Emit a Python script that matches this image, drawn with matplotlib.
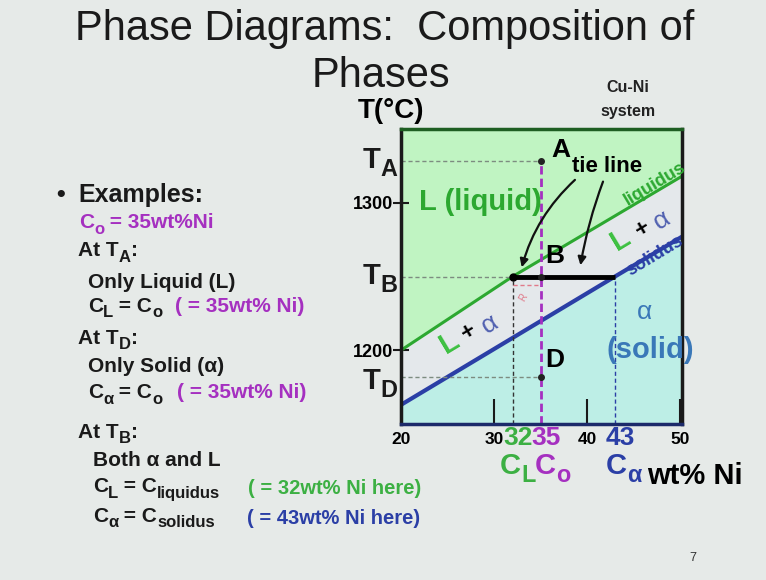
import numpy as np
import matplotlib.pyplot as plt
import matplotlib.transforms as mtransforms
from matplotlib.patches import FancyArrowPatch

plt.rcParams['font.family'] = ['Liberation Sans', 'DejaVu Sans']

# Cu-Ni phase diagram (zoomed window)
liquidus_x = [20, 32, 50.2]
liquidus_T = [1200, 1250, 1318]
solidus_x = [20, 43, 50.2]
solidus_T = [1163, 1250, 1277]

C_o = 35
C_L = 32
C_alpha = 43
T_A = 1328
T_B = 1250
T_D = 1182

x_ticks = [20, 30, 40, 50]
y_ticks = [1200, 1300]
x_lim = (20, 50.2)
y_lim = (1150, 1350)

bg = '#e6eae8'
ink = '#1a1a1a'
green = '#2ca830'
lgreen = '#3cb043'
purple = '#a530c0'
blue = '#2b3fa6'
solid_blue = '#3a78b8'

W, H = 766, 580
fig = plt.figure(figsize=(W / 100, H / 100), dpi=100, facecolor=bg)
renderer = fig.canvas.get_renderer()


def ftext(x, y, s, **kw):
    kw.setdefault('va', 'center')
    kw.setdefault('ha', 'left')
    return fig.text(x / W, 1 - y / H, s, **kw)


def rich(x, y, parts, size):
    # parts: (text, colour, is_subscript); pieces laid out left to right
    cx = x
    for s, col, sub in parts:
        fs = size * 0.8 if sub else size
        yy = y + size * 0.45 if sub else y
        t = ftext(cx, yy, s, fontsize=fs, fontweight='bold', color=col)
        cx += t.get_window_extent(renderer).width
    return cx


ax = fig.add_axes([401 / W, 1 - 424 / H, 281 / W, 295 / H])
ax.set_xlim(*x_lim)
ax.set_ylim(*y_lim)

# phase regions
ax.fill(liquidus_x + [x_lim[1], x_lim[0]], liquidus_T + [y_lim[1], y_lim[1]],
        color='#c0f4c2', lw=0)
ax.fill(liquidus_x + solidus_x[::-1], liquidus_T + solidus_T[::-1],
        color='#e4e8eb', lw=0)
ax.fill(solidus_x + [x_lim[1], x_lim[0]], solidus_T + [y_lim[0], y_lim[0]],
        color='#bdeee6', lw=0)

ax.plot(liquidus_x, liquidus_T, color=green, lw=2.2)
ax.plot(solidus_x, solidus_T, color=blue, lw=3)

# guide lines
for T, xe in [(T_A, C_o), (T_B, C_L), (T_D, C_o)]:
    ax.plot([x_lim[0], xe], [T, T], color='#7d8c80', lw=1, ls=(0, (3, 2)))
ax.plot([C_L, C_L], [y_lim[0], T_B], color='#333333', lw=1, ls=(0, (3, 2)))
ax.plot([C_alpha, C_alpha], [y_lim[0], T_B], color=blue, lw=1, ls=(0, (3, 2)))
ax.plot([C_o, C_o], [y_lim[0], T_A], color=purple, lw=2, ls=(0, (3, 1.5)))
ax.plot([C_L, C_o], [T_B - 6, T_B - 6], color='#e07a8a', lw=1, ls=(0, (3, 2)))
ax.text(33.2, T_B - 14, 'R', color='#e07a8a', fontsize=7, rotation=60,
        ha='center', va='center')

# tie line and state points
ax.plot([C_L, C_alpha], [T_B, T_B], color='black', lw=3.5, solid_capstyle='butt')
ax.plot([C_L], [T_B], 'o', color='black', ms=5)
ax.plot([C_o, C_o, C_o], [T_A, T_B, T_D], 'o', color='#222222', ms=4)

for sp in ['left', 'right']:
    ax.spines[sp].set_color(ink)
    ax.spines[sp].set_linewidth(2.5)
ax.spines['top'].set_color('#1e5e22')
ax.spines['top'].set_linewidth(2.5)
ax.spines['bottom'].set_color('#1c2a6a')
ax.spines['bottom'].set_linewidth(2.5)

ax.set_xticks(x_ticks)
ax.set_xticklabels([str(v) for v in x_ticks], fontsize=12.5, fontweight='bold')
ax.set_yticks(y_ticks)
ax.set_yticklabels([str(v) for v in y_ticks], fontsize=13, fontweight='bold')
ax.tick_params(axis='x', direction='in', length=18, width=1.5, pad=6, color=ink)
ax.tick_params(axis='y', direction='inout', length=12, width=1.5, pad=0, color=ink)

# region labels
ftext(419, 202, 'L (liquid)', color=green, fontsize=21, fontweight='bold')
ftext(655, 184, 'liquidus', color=green, fontsize=13, fontweight='bold',
      rotation=31, ha='center')
ftext(655, 256, 'solidus', color=blue, fontsize=13, fontweight='bold',
      rotation=31, ha='center')
ftext(621, 240, 'L', color='#3cc040', fontsize=21, fontweight='bold', rotation=31, ha='center')
ftext(643, 229, '+', color='black', fontsize=17, fontweight='bold', rotation=31, ha='center')
ftext(662, 220, 'α', color='#5060b0', fontsize=19, rotation=31, ha='center')
ftext(450, 343, 'L', color='#3cc040', fontsize=21, fontweight='bold', rotation=31, ha='center')
ftext(469, 332, '+', color='black', fontsize=17, fontweight='bold', rotation=31, ha='center')
ftext(490, 324, 'α', color='#5060b0', fontsize=19, rotation=31, ha='center')
ftext(645, 312, 'α', color=solid_blue, fontsize=19, ha='center')
ftext(606, 350, '(solid)', color=solid_blue, fontsize=21, fontweight='bold')

ftext(551, 150, 'A', fontsize=19, fontweight='bold')
ftext(545, 256, 'B', fontsize=19, fontweight='bold')
ftext(545, 360, 'D', fontsize=19, fontweight='bold')

ftext(572, 167, 'tie line', fontsize=16, fontweight='bold')
for (x0, y0), (x1, y1), rad in [((577, 178), (521, 270), 0.15), ((604, 179), (580, 268), 0.05)]:
    arr = FancyArrowPatch((x0 / W, 1 - y0 / H), (x1 / W, 1 - y1 / H),
                          transform=fig.transFigure, connectionstyle=f'arc3,rad={rad}',
                          arrowstyle='-|>', mutation_scale=12, lw=1.6, color='#111111')
    fig.add_artist(arr)

# temperature markers left of axis
for lab, yy in [('A', 160), ('B', 276), ('D', 381)]:
    rich(363, yy, [('T', ink, False), (lab, ink, True)], 21)
ftext(391, 111, 'T(°C)', fontsize=20, fontweight='bold', ha='center')
ftext(628, 88, 'Cu-Ni', fontsize=11.5, fontweight='bold', ha='center', color='#222222')
ftext(628, 112, 'system', fontsize=11.5, fontweight='bold', ha='center', color='#222222')

# compositions under the axis
bt = mtransforms.blended_transform_factory(ax.transData, fig.transFigure)
for c, col in [(C_L, lgreen), (C_o, purple), (C_alpha, blue)]:
    ax.text(c + 0.6, 1 - 438 / H, str(c), transform=bt, color=col, fontsize=19,
            fontweight='bold', ha='center', va='center')
rich(500, 466, [('C', lgreen, False), ('L', lgreen, True)], 21)
rich(535, 466, [('C', purple, False), ('o', purple, True)], 21)
rich(606, 466, [('C', blue, False), ('α', blue, True)], 21)
ftext(647, 476, 'wt% Ni', fontsize=21, fontweight='bold')

# title
ftext(385, 29, 'Phase Diagrams:  Composition of', fontsize=30, ha='center', color=ink)
ftext(381, 76, 'Phases', fontsize=30, ha='center', color=ink)

# left text block
fs = 15
ftext(56, 195, '•', fontsize=18, fontweight='bold', color=ink)
ftext(78, 195, 'Examples:', fontsize=18, fontweight='bold', color=ink)
rich(79, 223, [('C', purple, False), ('o', purple, True), (' = 35wt%Ni', purple, False)], fs)
rich(78, 251, [('At T', ink, False), ('A', ink, True), (':', ink, False)], fs)
ftext(88, 282, 'Only Liquid (L)', fontsize=fs, fontweight='bold', color=ink)
rich(88, 306, [('C', ink, False), ('L', ink, True), (' = C', ink, False), ('o', ink, True)], fs)
ftext(175, 306, '( = 35wt% Ni)', fontsize=fs, fontweight='bold', color=purple)
rich(78, 338, [('At T', ink, False), ('D', ink, True), (':', ink, False)], fs)
ftext(88, 367, 'Only Solid (α)', fontsize=fs, fontweight='bold', color=ink)
rich(88, 393, [('C', ink, False), ('α', ink, True), (' = C', ink, False), ('o', ink, True)], fs)
ftext(177, 393, '( = 35wt% Ni)', fontsize=fs, fontweight='bold', color=purple)
rich(78, 432, [('At T', ink, False), ('B', ink, True), (':', ink, False)], fs)
ftext(93, 461, 'Both α and L', fontsize=fs, fontweight='bold', color=ink)
rich(93, 487, [('C', ink, False), ('L', ink, True), (' = C', ink, False), ('liquidus', ink, True)], fs)
ftext(248, 489, '( = 32wt% Ni here)', fontsize=14.5, fontweight='bold', color=lgreen)
rich(93, 516, [('C', ink, False), ('α', ink, True), (' = C', ink, False), ('solidus', ink, True)], fs)
ftext(247, 518, '( = 43wt% Ni here)', fontsize=14.5, fontweight='bold', color=blue)

ftext(693, 558, '7', fontsize=9, ha='center', color='#333333')

fig.savefig('out.png', dpi=100, facecolor=bg)
